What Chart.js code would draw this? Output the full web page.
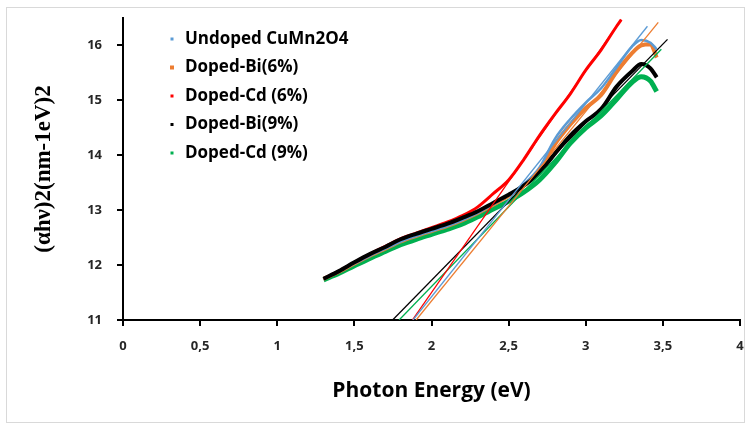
<!DOCTYPE html>
<html>
<head>
<meta charset="utf-8">
<script src="https://cdn.jsdelivr.net/npm/chart.js@4.4.1/dist/chart.umd.min.js"></script>
<style>
  html, body { margin: 0; padding: 0; background: #fff; }
</style>
</head>
<body>
<canvas id="chart" width="748" height="425"></canvas>
<script>
// photon energy samples (eV) for the measured curves
const energy = [1.30, 1.40, 1.50, 1.60, 1.70, 1.80, 1.90, 2.00, 2.10, 2.20, 2.30, 2.40,
  2.50, 2.60, 2.70, 2.80, 2.90, 3.00, 3.10, 3.20, 3.30, 3.36, 3.42, 3.46];
const energyCd6 = [1.30, 1.40, 1.50, 1.60, 1.70, 1.80, 1.90, 2.00, 2.10, 2.20, 2.30, 2.40,
  2.50, 2.60, 2.70, 2.80, 2.90, 3.00, 3.10, 3.20, 3.23];

const undoped = [11.75, 11.88, 12.03, 12.17, 12.30, 12.43, 12.53, 12.62, 12.71, 12.82, 12.95, 13.11,
  13.28, 13.48, 13.78, 14.30, 14.66, 14.96, 15.22, 15.60, 15.98, 16.10, 16.05, 15.93];
const bi6 = [11.75, 11.88, 12.03, 12.17, 12.30, 12.43, 12.53, 12.62, 12.71, 12.82, 12.95, 13.10,
  13.26, 13.45, 13.72, 14.20, 14.56, 14.86, 15.10, 15.52, 15.86, 16.00, 16.02, 15.78];
const cd6 = [11.75, 11.89, 12.05, 12.20, 12.34, 12.48, 12.58, 12.68, 12.78, 12.90, 13.06, 13.30,
  13.55, 13.93, 14.36, 14.75, 15.12, 15.55, 15.92, 16.35, 16.47];
const bi9 = [11.75, 11.89, 12.05, 12.20, 12.33, 12.47, 12.57, 12.66, 12.75, 12.86, 12.98, 13.13,
  13.28, 13.45, 13.68, 14.03, 14.36, 14.62, 14.84, 15.25, 15.53, 15.66, 15.58, 15.42];
const cd9 = [11.73, 11.85, 11.99, 12.12, 12.25, 12.37, 12.47, 12.56, 12.65, 12.75, 12.88, 13.02,
  13.16, 13.33, 13.55, 13.86, 14.22, 14.50, 14.72, 15.02, 15.33, 15.43, 15.35, 15.16];

// straight-line extrapolations (two end points each)
const fitUndopedX = [1.88, 3.40], fitUndopedY = [11, 16.35];
const fitBi6X = [1.90, 3.47], fitBi6Y = [11, 16.42];
const fitCd6X = [1.876, 3.23], fitCd6Y = [11, 16.47];
const fitBi9X = [1.748, 3.53], fitBi9Y = [11, 16.11];
const fitCd9X = [1.79, 3.49], fitCd9Y = [11, 15.93];

const seriesLabels = ['Undoped CuMn2O4', 'Doped-Bi(6%)', 'Doped-Cd (6%)', 'Doped-Bi(9%)', 'Doped-Cd (9%)'];
const seriesColors = ['#5B9BD5', '#ED7D31', '#FF0000', '#000000', '#00B050'];
const xTicks = [0, 0.5, 1, 1.5, 2, 2.5, 3, 3.5, 4];

const pts = (xs, ys) => xs.map((x, i) => ({ x: x, y: ys[i] }));

const curve = (i, xs, ys, width, order) => ({
  label: seriesLabels[i],
  data: pts(xs, ys),
  borderColor: seriesColors[i],
  backgroundColor: seriesColors[i],
  borderWidth: width,
  showLine: true,
  pointRadius: 0,
  cubicInterpolationMode: 'monotone',
  order: order
});

const fit = (i, xs, ys) => ({
  label: seriesLabels[i] + ' fit',
  data: pts(xs, ys),
  borderColor: seriesColors[i],
  borderWidth: 1.3,
  showLine: true,
  pointRadius: 0,
  order: 0
});

const frame = {
  id: 'frame',
  beforeDraw(chart) {
    const ctx = chart.ctx;
    ctx.save();
    ctx.fillStyle = '#fff';
    ctx.fillRect(0, 0, chart.width, chart.height);
    ctx.strokeStyle = '#d9d9d9';
    ctx.lineWidth = 1;
    ctx.strokeRect(6.5, 7.5, 738, 415);
    ctx.restore();
  }
};

const legendBox = {
  id: 'legendBox',
  afterDraw(chart) {
    const ctx = chart.ctx;
    ctx.save();
    ctx.font = 'bold 17px "Open Sans"';
    ctx.textBaseline = 'middle';
    seriesLabels.forEach((label, i) => {
      const y = 39 + i * 28.5;
      const s = i === 1 ? 4 : 3;
      ctx.fillStyle = seriesColors[i];
      ctx.fillRect(172 - s / 2, y - s / 2, s, s);
      ctx.fillStyle = '#000';
      ctx.fillText(label, 185, y);
    });
    ctx.restore();
  }
};

new Chart(document.getElementById('chart'), {
  type: 'scatter',
  data: {
    datasets: [
      fit(0, fitUndopedX, fitUndopedY),
      fit(1, fitBi6X, fitBi6Y),
      fit(2, fitCd6X, fitCd6Y),
      fit(3, fitBi9X, fitBi9Y),
      fit(4, fitCd9X, fitCd9Y),
      curve(0, energy, undoped, 2.5, 3),
      curve(1, energy, bi6, 4, 4),
      curve(2, energyCd6, cd6, 3, 2),
      curve(3, energy, bi9, 4, 1),
      curve(4, energy, cd9, 5, 5)
    ]
  },
  options: {
    responsive: false,
    animation: false,
    layout: { padding: { left: 8, right: 8, top: 18, bottom: 10 } },
    plugins: {
      legend: { display: false },
      tooltip: { enabled: false }
    },
    scales: {
      x: {
        type: 'linear',
        min: 0,
        max: 4,
        afterFit: s => { s.height = 95; s.paddingLeft = 0; s.paddingRight = 0; },
        afterBuildTicks: s => { s.ticks = xTicks.map(v => ({ value: v })); },
        border: { color: '#000', width: 2 },
        grid: { drawOnChartArea: false, drawTicks: true, tickLength: 6, color: '#000', lineWidth: 2 },
        ticks: {
          padding: 12,
          color: '#262626',
          font: { family: 'Open Sans', size: 13, weight: 'bold' },
          callback: v => String(v).replace('.', ',')
        },
        title: {
          display: true,
          text: 'Photon Energy (eV)',
          color: '#000',
          font: { family: 'Open Sans', size: 21, weight: 'bold' },
          padding: { top: 0, bottom: 11 }
        }
      },
      y: {
        type: 'linear',
        min: 11,
        max: 16.5,
        afterFit: s => { s.width = 115; s.paddingTop = 0; s.paddingBottom = 0; },
        afterBuildTicks: s => { s.ticks = s.ticks.filter(t => Number.isInteger(t.value)); },
        border: { color: '#000', width: 2 },
        grid: { drawOnChartArea: false, drawTicks: true, tickLength: 6, color: '#000', lineWidth: 2 },
        ticks: {
          stepSize: 1,
          padding: 15,
          color: '#262626',
          font: { family: 'Open Sans', size: 13, weight: 'bold' }
        },
        title: {
          display: true,
          text: '(αhν)2(nm-1eV)2',
          color: '#000',
          font: { family: 'Liberation Serif', size: 23, weight: 'bold' },
          padding: { top: 22, bottom: 0 }
        }
      }
    }
  },
  plugins: [frame, legendBox]
});
</script>
</body>
</html>
